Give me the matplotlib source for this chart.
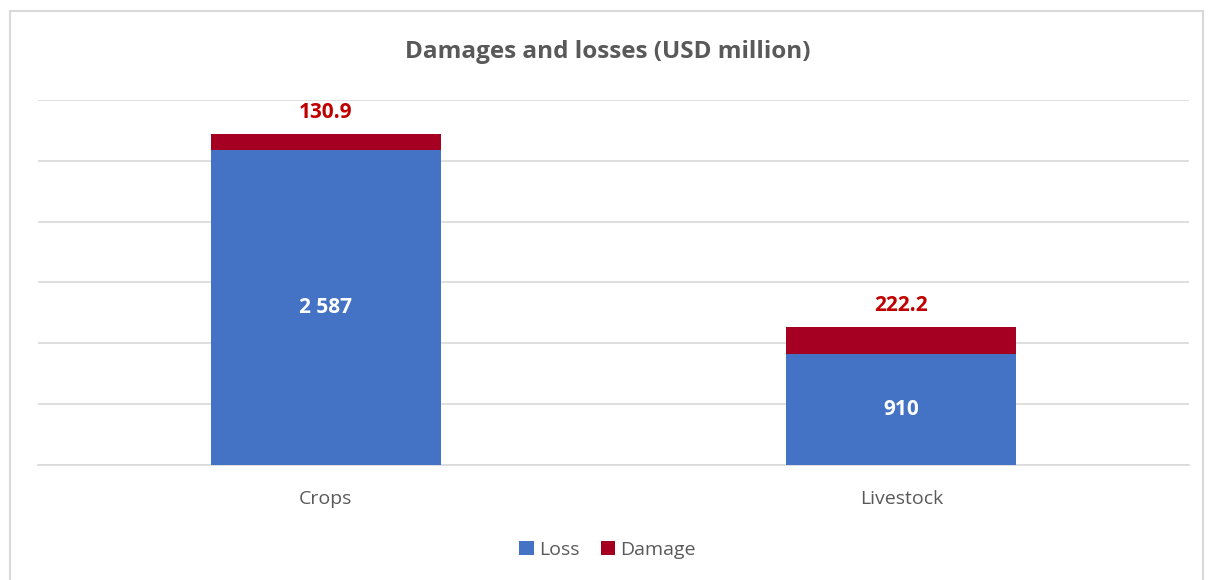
import matplotlib.pyplot as plt
from matplotlib.patches import Rectangle

plt.rcParams['font.family'] = ['Open Sans', 'DejaVu Sans']

categories = ['Crops', 'Livestock']
loss = [2587, 910]
damage = [130.9, 222.2]

blue = '#4472C4'
red = '#A50021'
grey = '#595959'

fig = plt.figure(figsize=(12.15, 5.8), dpi=100)
ax = fig.add_axes([0.0313, 0.1983, 0.9473, 0.6293])

x = range(len(categories))
ax.bar(x, loss, width=0.4, color=blue, label='Loss', zorder=3)
ax.bar(x, damage, width=0.4, bottom=loss, color=red, label='Damage', zorder=3)

for i in x:
    ax.text(i, loss[i] / 2, f"{loss[i]:,}".replace(',', ' '), ha='center', va='center',
            color='white', fontsize=15, fontweight='bold')
    ax.annotate(f"{damage[i]:.1f}", (i, loss[i] + damage[i]), xytext=(0, 8),
                textcoords='offset points', ha='center', va='bottom',
                color='#C00000', fontsize=15, fontweight='bold')

ax.set_xlim(-0.5, 1.5)
ax.set_ylim(0, 3000)
ax.set_yticks(range(0, 3001, 500))
ax.set_yticklabels([])
ax.tick_params(axis='y', length=0)
ax.tick_params(axis='x', length=0, pad=18, labelsize=14, labelcolor=grey)
ax.set_xticks(list(x))
ax.set_xticklabels(categories)
ax.grid(axis='y', color='#D9D9D9', linewidth=1.2, zorder=0)
for s in ['top', 'right', 'left']:
    ax.spines[s].set_visible(False)
ax.spines['bottom'].set_color('#D9D9D9')
ax.spines['bottom'].set_linewidth(1.2)

fig.text(0.5, 0.91, 'Damages and losses (USD million)', ha='center', va='center',
         fontsize=17.5, fontweight='bold', color=grey)

fig.legend(loc='center', bbox_to_anchor=(0.5, 0.052), ncol=2, frameon=False,
           fontsize=14, handlelength=0.75, handleheight=0.75, handletextpad=0.25,
           columnspacing=1.1, labelcolor=grey)

fig.patches.append(Rectangle((10 / 1215, -0.1), 1193 / 1215, 1 - 11 / 580 + 0.1,
                             transform=fig.transFigure, fill=False,
                             edgecolor='#D9D9D9', linewidth=1.5))

fig.savefig('out.png', dpi=100)
